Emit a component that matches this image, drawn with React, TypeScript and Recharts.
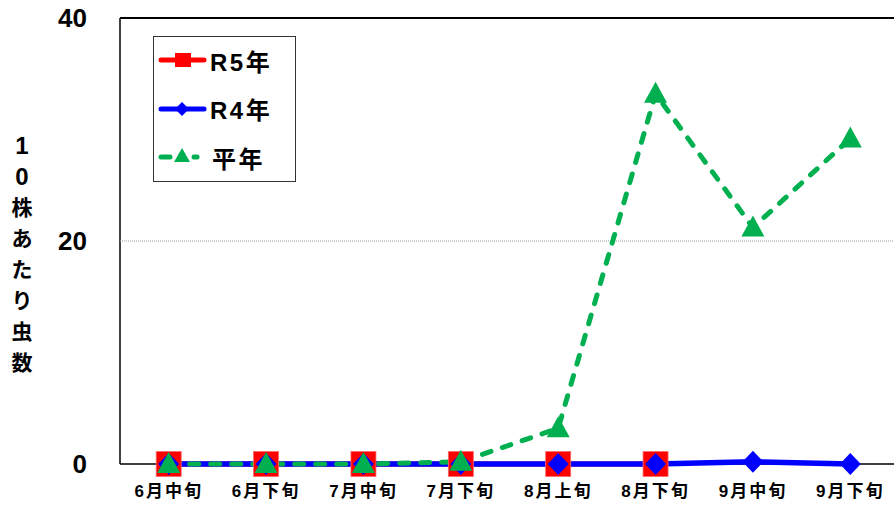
import { Legend, Line, LineChart, ReferenceLine, XAxis, YAxis } from 'recharts';

const categories = ['6月中旬', '6月下旬', '7月中旬', '7月下旬', '8月上旬', '8月下旬', '9月中旬', '9月下旬'];
const r5Values = [0, 0, 0, 0, 0, 0, null, null];
const r4Values = [0, 0, 0, 0, 0, 0, 0.2, 0];
const normalValues = [0, 0, 0, 0.2, 3.2, 33.2, 21.2, 29.2];
const yTicks = [0, 20, 40];
const yLabel = '10株あたり虫数';

const data = categories.map((c, i) => ({
  name: c,
  r5: r5Values[i],
  r4: r4Values[i],
  normal: normalValues[i],
}));

const font = '"Liberation Sans", Arial, "Noto Sans CJK JP", sans-serif';
const RED = '#FF0000';
const BLUE = '#0000FF';
const GREEN = '#00B050';

const SquareDot = (p: any) => {
  if (p.cx == null || p.cy == null || p.value == null) return <g key={p.key} />;
  return <rect key={p.key} x={p.cx - 12.5} y={p.cy - 12.5} width={25} height={25} fill={RED} stroke="#ff6a6a" strokeWidth={0.8} />;
};

const DiamondDot = (p: any) => {
  if (p.cx == null || p.cy == null) return <g key={p.key} />;
  const { cx, cy } = p;
  return <polygon key={p.key} points={`${cx},${cy - 11} ${cx + 10.5},${cy} ${cx},${cy + 11} ${cx - 10.5},${cy}`} fill={BLUE} />;
};

const TriangleDot = (p: any) => {
  if (p.cx == null || p.cy == null) return <g key={p.key} />;
  const { cx, cy } = p;
  return <polygon key={p.key} points={`${cx},${cy - 12} ${cx + 11.5},${cy + 9} ${cx - 11.5},${cy + 9}`} fill={GREEN} />;
};

const YTick = (p: any) => (
  <text x={87} y={p.y} textAnchor="end" dominantBaseline="central" fontFamily={font} fontWeight={700} fontSize={26} fill="#000">
    {p.payload.value}
  </text>
);

const XTick = (p: any) => (
  <text x={p.x} y={491} textAnchor="middle" dominantBaseline="central" fontFamily={font} fontWeight={700} fontSize={17} letterSpacing={2} fill="#000">
    {p.payload.value}
  </text>
);

const YLabel = () => (
  <g>
    {yLabel.split('').map((ch, i) => (
      <text key={i} x={22} y={145 + i * 31} textAnchor="middle" dominantBaseline="central" fontFamily={font} fontWeight={700} fontSize={i < 2 ? 24 : 21} fill="#000">
        {ch}
      </text>
    ))}
  </g>
);

const legendItems = [
  { label: 'R5年', kind: 'square' },
  { label: 'R4年', kind: 'diamond' },
  { label: '平年', kind: 'triangle' },
];

const LegendBox = () => (
  <div style={{ width: 141, height: 144, border: '1px solid #333', background: '#fff', position: 'relative' }}>
    {legendItems.map((it, i) => (
      <div key={it.label} style={{ position: 'absolute', left: 4, top: 23 + i * 48.5 - 14, height: 28, display: 'flex', alignItems: 'center' }}>
        <svg width={50} height={28}>
          {it.kind === 'square' && (
            <>
              <line x1={3} y1={14} x2={46} y2={14} stroke={RED} strokeWidth={5} strokeLinecap="round" />
              <rect x={17} y={7} width={16} height={14} fill={RED} />
            </>
          )}
          {it.kind === 'diamond' && (
            <>
              <line x1={3} y1={14} x2={46} y2={14} stroke={BLUE} strokeWidth={5} strokeLinecap="round" />
              <polygon points="24,7 31,14 24,21 17,14" fill={BLUE} />
            </>
          )}
          {it.kind === 'triangle' && (
            <>
              <line x1={3} y1={14} x2={12} y2={14} stroke={GREEN} strokeWidth={5} strokeLinecap="round" />
              <line x1={36} y1={14} x2={39} y2={14} stroke={GREEN} strokeWidth={5} strokeLinecap="round" />
              <polygon points="24,5 32,19 16,19" fill={GREEN} />
            </>
          )}
        </svg>
        <span style={{ fontFamily: font, fontWeight: 700, fontSize: 24, letterSpacing: 2.5, marginLeft: it.kind === 'triangle' ? 4 : 2, color: '#000' }}>
          {it.label}
        </span>
      </div>
    ))}
  </div>
);

export default function App() {
  return (
    <div style={{ position: 'absolute', left: 0, top: 0, width: 894, height: 505, overflow: 'hidden', background: '#fff' }}>
      <LineChart width={905} height={505} data={data} margin={{ top: 18, right: 6, left: 0, bottom: 0 }}>
        <XAxis
          dataKey="name"
          height={41}
          padding={{ left: 48.7, right: 48.7 }}
          tick={<XTick />}
          tickLine={false}
          axisLine={{ stroke: '#000', strokeWidth: 1.5 }}
          interval={0}
          zIndex={0}
        />
        <YAxis
          width={120}
          domain={[0, 40]}
          ticks={yTicks}
          tick={<YTick />}
          tickLine={false}
          axisLine={{ stroke: '#000', strokeWidth: 1.5 }}
          label={<YLabel />}
          zIndex={0}
        />
        <ReferenceLine y={20} stroke="#999" strokeDasharray="1 1" strokeWidth={1} />
        <ReferenceLine y={40} stroke="#000" strokeWidth={2} />
        <Legend
          layout="horizontal"
          verticalAlign="middle"
          align="center"
          content={<LegendBox />}
          wrapperStyle={{ left: 153, top: 36, width: 143, height: 146 }}
        />
        <Line dataKey="r5" name="R5年" stroke={RED} strokeWidth={5} dot={SquareDot} activeDot={false} isAnimationActive={false} />
        <Line dataKey="r4" name="R4年" stroke={BLUE} strokeWidth={5.5} dot={DiamondDot} activeDot={false} isAnimationActive={false} />
        <Line
          dataKey="normal"
          name="平年"
          stroke={GREEN}
          strokeWidth={5}
          strokeDasharray="9 12"
          strokeLinecap="round"
          dot={TriangleDot}
          activeDot={false}
          isAnimationActive={false}
        />
      </LineChart>
    </div>
  );
}
